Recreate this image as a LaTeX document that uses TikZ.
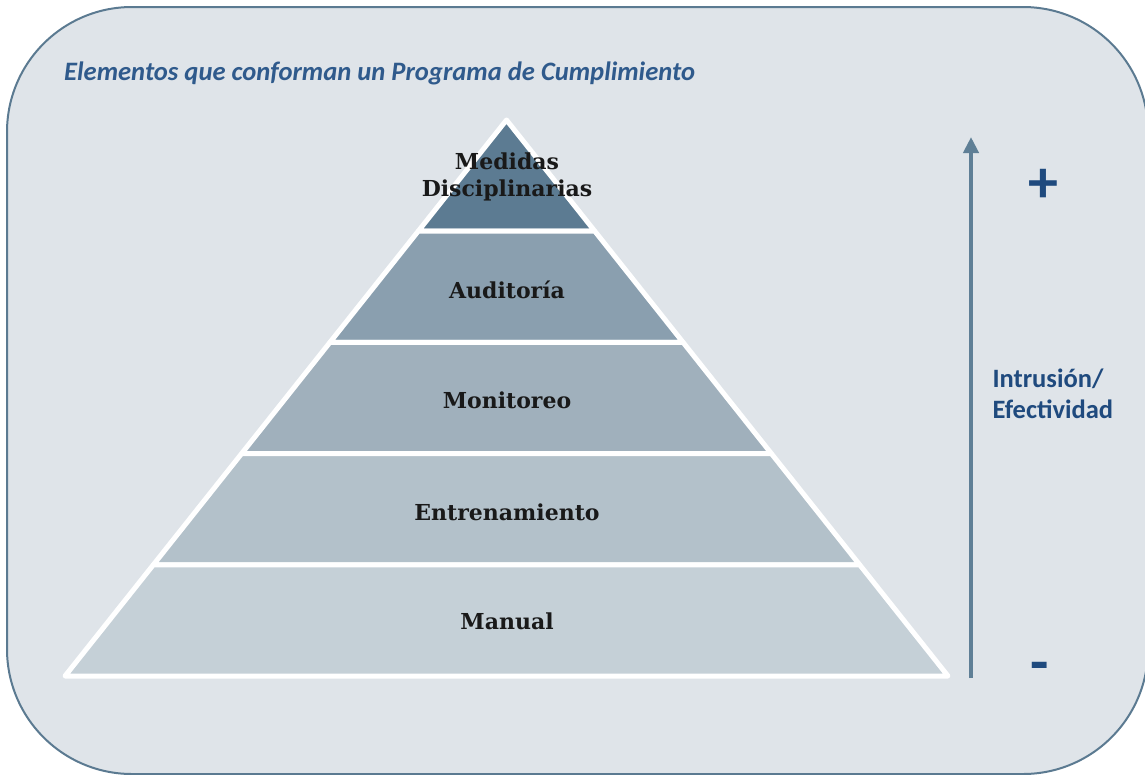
\documentclass[tikz,border=0pt]{standalone}
\usepackage{fontspec}
\setmainfont{DejaVu Serif}
\newfontfamily\carlito{Carlito}
\usetikzlibrary{arrows.meta}

\definecolor{panelfill}{HTML}{DFE4E9}
\definecolor{paneldraw}{HTML}{5B7A91}
\definecolor{layA}{HTML}{5C7B92}
\definecolor{layB}{HTML}{8A9FAF}
\definecolor{layC}{HTML}{A0B0BC}
\definecolor{layD}{HTML}{B3C1CA}
\definecolor{layE}{HTML}{C5D0D7}
\definecolor{titleblue}{HTML}{2F5A8C}
\definecolor{signblue}{HTML}{1F4A7E}
\definecolor{arrowgray}{HTML}{5F7F96}

\newcommand*{\apexx}{506.5}
\newcommand*{\apexy}{120}
\newcommand*{\layh}{111.2}
\newcommand*{\pyrslope}{0.794}
\newcommand*{\DrawLayers}[1]{% #1 = list of row/color
  \foreach \row/\col in {#1} {
    \pgfmathsetmacro{\ytop}{\apexy+\row*\layh}
    \pgfmathsetmacro{\ybot}{\ytop+\layh}
    \pgfmathsetmacro{\wtop}{\pyrslope*(\ytop-\apexy)}
    \pgfmathsetmacro{\wbot}{\pyrslope*(\ybot-\apexy)}
    \draw [layer, fill=\col] (\apexx-\wtop,\ytop) -- (\apexx+\wtop,\ytop)
      -- (\apexx+\wbot,\ybot) -- (\apexx-\wbot,\ybot) -- cycle;
    }%
}

\tikzset{
  layer/.style={draw=white, line width=5pt, line join=round},
  lbl/.style={font=\fontsize{22}{27}\selectfont\bfseries, text=black!90, align=center},
  side/.style={font=\fontsize{26.5}{31}\selectfont\carlito\bfseries, text=signblue, align=left},
  sign/.style={font=\fontsize{60}{66}\selectfont\carlito\bfseries, text=signblue},
}

\begin{document}
\begin{tikzpicture}[x=1pt, y=-1pt]
  \useasboundingbox (0,0) rectangle (1145,774);
  \begin{scope}
    \clip (0,0) rectangle (1145,774);
    \draw [fill=panelfill, draw=paneldraw, line width=2pt, rounded corners=125pt]
      (7,7) rectangle (1148,774);
  \end{scope}
  \node [anchor=base west, font=\fontsize{26.6}{30}\selectfont\carlito\bfseries\itshape,
    text=titleblue, inner sep=0pt] (title) at (64,80)
    {Elementos que conforman un Programa de Cumplimiento};

  % pyramid
  \DrawLayers{0/layA, 1/layB, 2/layC, 3/layD, 4/layE}
  \node [lbl] (medidas) at (507,177) {Medidas\\Disciplinarias};
  \node [lbl] (auditoria) at (507,290) {Auditoría};
  \node [lbl] (monitoreo) at (507,400) {Monitoreo};
  \node [lbl] (entrenamiento) at (507,512) {Entrenamiento};
  \node [lbl] (manual) at (507,621) {Manual};

  % scale
  \coordinate (scalebot) at (971,678);
  \coordinate (scaletop) at (971,137);
  \draw [arrowgray, line width=4pt, -{Triangle[length=16pt, width=15pt]}]
    (scalebot) -- (scaletop);
  \node [sign] (plus) at (1043,186) {+};
  \node [sign] (minus) at (1040,672) {-};
  \node [side, anchor=west] (intrusion) at (989,394) {Intrusión/\\Efectividad};
\end{tikzpicture}
\end{document}
